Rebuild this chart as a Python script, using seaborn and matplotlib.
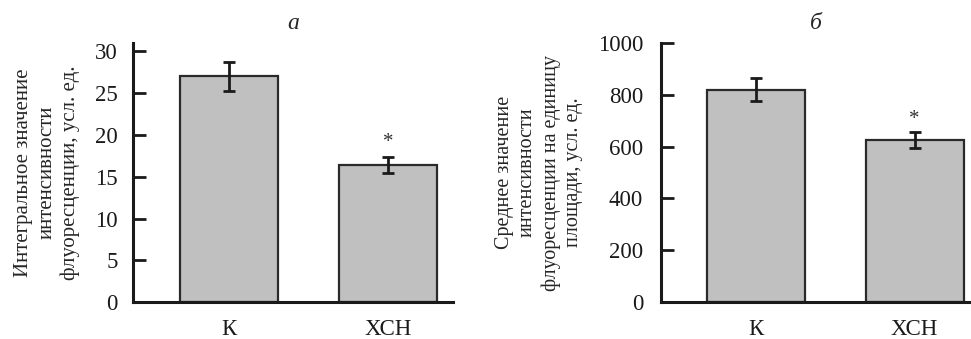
import matplotlib
matplotlib.use('Agg')
import matplotlib.pyplot as plt
import seaborn as sns
import pandas as pd

# data
groups = ['К', 'ХСН']
integral_vals = [27.0, 16.4]
integral_err = [1.7, 1.0]
mean_vals = [820, 625]
mean_err = [45, 30]

sns.set_style('white')
plt.rcParams['font.family'] = ['Liberation Serif', 'DejaVu Serif']

fig = plt.figure(figsize=(9.71, 3.39), dpi=100)
ax1 = fig.add_axes([0.137, 0.109, 0.330, 0.764])
ax2 = fig.add_axes([0.681, 0.109, 0.318, 0.764])

panels = [
    (ax1, integral_vals, integral_err, 'а',
     'Интегральное значение\nинтенсивности\nфлуоресценции, усл. ед.',
     (0, 31), [0, 5, 10, 15, 20, 25, 30], (-0.604, 1.409), 0.5, -0.166, 11, 15),
    (ax2, mean_vals, mean_err, 'б',
     'Среднее значение\nинтенсивности\nфлуоресценции на единицу\nплощади, усл. ед.',
     (0, 1000), [0, 200, 400, 600, 800, 1000], (-0.594, 1.349), 12, -0.252, 13, 14.5),
]

for ax, vals, errs, title, ylabel, ylim, yticks, xlim, star_off, lab_x, tpad, lab_fs in panels:
    df = pd.DataFrame({'group': groups, 'value': vals})
    sns.barplot(data=df, x='group', y='value', ax=ax, color='#c0c0c0',
                saturation=1, width=0.616, edgecolor='#2a2a2a', linewidth=1.6,
                errorbar=None)
    ax.errorbar(range(len(vals)), vals, yerr=errs, fmt='none', ecolor='#1a1a1a',
                elinewidth=2, capsize=4, capthick=2)
    # significance mark
    ax.text(1, vals[1] + errs[1] + star_off, '*', ha='center', va='bottom',
            fontsize=15, color='#333333')
    ax.set_ylim(*ylim)
    ax.set_xlim(*xlim)
    ax.set_yticks(yticks)
    ax.set_xlabel('')
    ax.set_ylabel(ylabel, fontsize=lab_fs, linespacing=1.28)
    ax.yaxis.set_label_coords(lab_x, 0.5)
    ax.set_title(title, fontsize=17, style='italic', pad=10)
    for side in ['top', 'right']:
        ax.spines[side].set_visible(False)
    for side in ['left', 'bottom']:
        ax.spines[side].set_linewidth(2.2)
        ax.spines[side].set_color('#1a1a1a')
    ax.tick_params(axis='y', direction='in', length=9, width=2, labelsize=16.5,
                   pad=tpad, colors='#1a1a1a', left=True)
    ax.tick_params(axis='x', direction='in', length=9, width=2, labelsize=16.5,
                   pad=12, colors='#1a1a1a', bottom=True)

fig.savefig('out.png', dpi=100)
